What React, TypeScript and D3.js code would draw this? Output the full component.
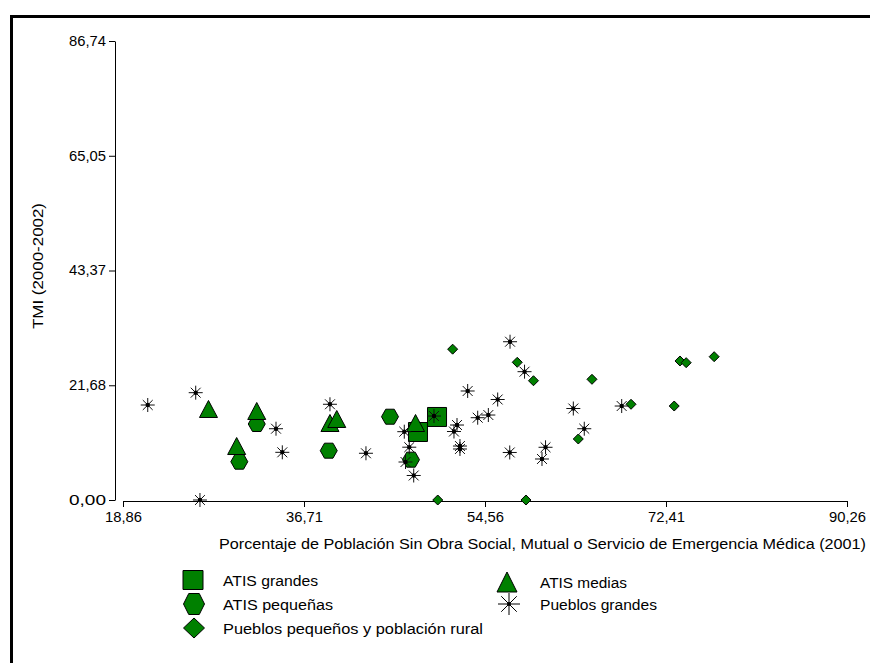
import React, { useRef, useEffect } from 'react';
import * as d3 from 'd3';

// axis ticks (as printed on the chart)
const xTicks = [18.86, 36.71, 54.56, 72.41, 90.26];
const yTicks = [0, 21.68, 43.37, 65.05, 86.74];

// ATIS grandes (squares)
const grandesX = [49.83, 47.95];
const grandesY = [15.69, 12.85];

// ATIS pequeñas (hexagons)
const pequenasX = [32.05, 30.33, 39.15, 45.19, 47.26];
const pequenasY = [14.36, 7.24, 9.32, 15.74, 7.62];

// ATIS medias (triangles)
const mediasX = [27.29, 32.05, 30.07, 39.27, 39.94, 47.71];
const mediasY = [17.2, 16.82, 10.2, 14.55, 15.31, 14.55];

// Pueblos pequeños y población rural (diamonds)
const ruralX = [51.37, 57.74, 59.34, 65.11, 63.76, 49.9, 58.6, 68.96, 73.22, 73.79, 74.4, 77.16];
const ruralY = [28.5, 26.02, 22.54, 22.81, 11.53, 0, 0, 18.09, 17.76, 26.27, 25.95, 27.08];

// Pueblos grandes (asterisks)
const pueblosX = [
  21.3, 26.03, 26.45, 33.95, 34.57, 39.27, 42.82, 46.6, 47.09, 46.72, 47.53, 49.53, 51.8, 51.5,
  52.09, 52.09, 52.85, 53.84, 54.89, 55.81, 57.03, 58.46, 57.0, 60.53, 60.18, 63.27, 64.35, 68.04,
];
const pueblosY = [
  17.95, 20.28, 0, 13.47, 9.01, 18.09, 8.83, 12.91, 9.98, 7.18, 4.63, 15.87, 14.17, 12.94,
  10.2, 9.64, 20.6, 15.55, 16.06, 18.99, 29.91, 24.25, 8.98, 9.96, 7.75, 17.29, 13.47, 17.76,
];

const GREEN = '#008000';
const FONT = '"Liberation Sans", Arial, sans-serif';

// marker outlines centered on 0,0
const shape = (kind: string, w: number, h: number) => {
  const a = w / 2;
  const b = h / 2;
  if (kind === 'square') return `M${-a},${-b}H${a}V${b}H${-a}Z`;
  if (kind === 'hex') return `M${-a},0L${-a / 2},${-b}H${a / 2}L${a},0L${a / 2},${b}H${-a / 2}Z`;
  if (kind === 'tri') return `M0,${-b}L${a},${b}H${-a}Z`;
  if (kind === 'diamond') return `M0,${-b}L${a},0L0,${b}L${-a},0Z`;
  // asterisk
  const d = a * Math.SQRT1_2;
  return `M${-a},0H${a}M0,${-a}V${a}M${-d},${-d}L${d},${d}M${-d},${d}L${d},${-d}`;
};

const App = () => {
  const svgRef = useRef<SVGSVGElement>(null);

  useEffect(() => {
    const svg = d3.select(svgRef.current);
    svg.selectAll('*').remove();

    const xScale = d3.scaleLinear().domain([18.86, 90.26]).range([123, 847]);
    const yScale = d3.scaleLinear().domain([0, 86.74]).range([500, 41]);
    const fmt = (v: number) => d3.format('.2f')(v).replace('.', ',');

    // frame (only the left and top edges show)
    svg.append('path')
      .attr('d', 'M11.5,663V16.5H870')
      .attr('fill', 'none')
      .attr('stroke', '#000')
      .attr('stroke-width', 3);

    // axes
    const yAxis = d3.axisLeft(yScale).tickValues(yTicks).tickFormat(fmt as any)
      .tickSize(6).tickSizeOuter(0).tickPadding(3);
    const xAxis = d3.axisBottom(xScale).tickValues(xTicks).tickFormat(fmt as any)
      .tickSize(6).tickSizeOuter(0).tickPadding(5);

    const gy = svg.append('g').attr('transform', 'translate(115,0)').call(yAxis);
    const gx = svg.append('g').attr('transform', 'translate(0,501)').call(xAxis);
    [gx, gy].forEach(g => {
      g.attr('font-family', FONT).attr('font-size', 14);
      g.selectAll('path, line').attr('stroke', '#000');
      g.selectAll('text').attr('fill', '#000')
        .attr('textLength', 37).attr('lengthAdjust', 'spacingAndGlyphs');
    });

    // axis titles
    svg.append('text')
      .attr('x', 219).attr('y', 549)
      .attr('font-family', FONT).attr('font-size', 14)
      .attr('textLength', 647).attr('lengthAdjust', 'spacingAndGlyphs')
      .text('Porcentaje de Población Sin Obra Social, Mutual o Servicio de Emergencia Médica (2001)');

    svg.append('text')
      .attr('transform', 'translate(43,266) rotate(-90)')
      .attr('text-anchor', 'middle')
      .attr('font-family', FONT).attr('font-size', 14)
      .attr('textLength', 126).attr('lengthAdjust', 'spacingAndGlyphs')
      .text('TMI (2000-2002)');

    // series, drawn in the order of the original
    const plot = (xs: number[], ys: number[], kind: string, w: number, h: number) => {
      const pts = xs.map((x, i) => [x, ys[i]]);
      const g = svg.append('g');
      g.selectAll('path')
        .data(pts)
        .join('path')
        .attr('transform', d => `translate(${xScale(d[0])},${yScale(d[1])})`)
        .attr('d', shape(kind, w, h))
        .attr('fill', kind === 'star' ? 'none' : GREEN)
        .attr('stroke', kind === 'star' ? '#111' : '#000')
        .attr('stroke-width', 1);
      if (kind === 'star') {
        g.selectAll('circle')
          .data(pts)
          .join('circle')
          .attr('cx', d => xScale(d[0]))
          .attr('cy', d => yScale(d[1]))
          .attr('r', 2.2)
          .attr('fill', '#000');
      }
    };

    plot(grandesX, grandesY, 'square', 19, 19);
    plot(pequenasX, pequenasY, 'hex', 17, 15);
    plot(mediasX, mediasY, 'tri', 18, 17);
    plot(ruralX, ruralY, 'diamond', 10, 10);
    plot(pueblosX, pueblosY, 'star', 14, 14);

    // legend
    const legend = [
      { label: 'ATIS grandes', kind: 'square', x: 193, y: 580, w: 20, h: 19, len: 95 },
      { label: 'ATIS pequeñas', kind: 'hex', x: 194, y: 604, w: 21, h: 21, len: 110 },
      { label: 'Pueblos pequeños y población rural', kind: 'diamond', x: 194, y: 628, w: 21, h: 20, len: 260 },
      { label: 'ATIS medias', kind: 'tri', x: 507, y: 582, w: 20, h: 20, len: 87 },
      { label: 'Pueblos grandes', kind: 'star', x: 509, y: 604, w: 22, h: 22, len: 117 },
    ];
    const lg = svg.append('g').attr('font-family', FONT).attr('font-size', 14);
    legend.forEach(item => {
      lg.append('path')
        .attr('transform', `translate(${item.x},${item.y})`)
        .attr('d', shape(item.kind, item.w, item.h))
        .attr('fill', item.kind === 'star' ? 'none' : GREEN)
        .attr('stroke', '#000');
      if (item.kind === 'star') {
        lg.append('circle').attr('cx', item.x).attr('cy', item.y).attr('r', 2).attr('fill', '#000');
      }
      lg.append('text')
        .attr('x', item.x < 300 ? 223 : 540)
        .attr('y', item.y + 6)
        .attr('textLength', item.len)
        .attr('lengthAdjust', 'spacingAndGlyphs')
        .text(item.label);
    });
  }, []);

  return (
    <svg
      ref={svgRef}
      width={870}
      height={663}
      style={{ position: 'absolute', left: 0, top: 0, background: '#fff' }}
    />
  );
};

export default App;
